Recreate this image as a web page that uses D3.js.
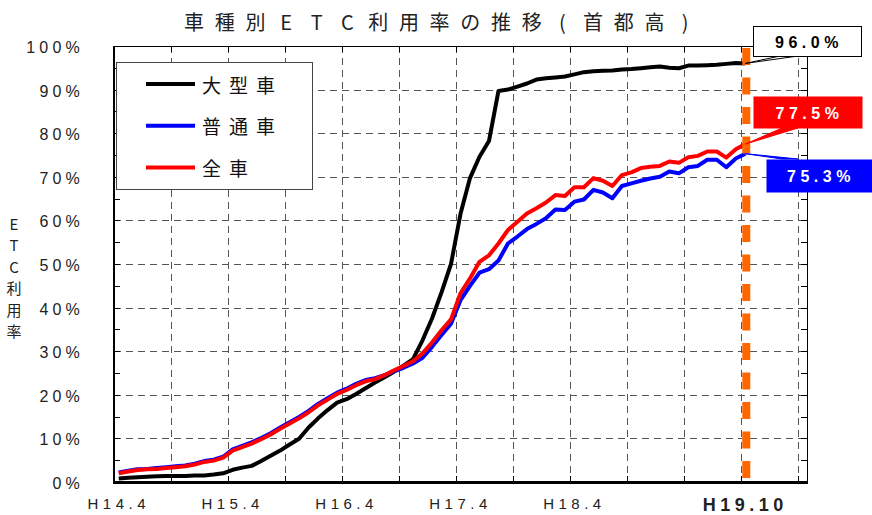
<!DOCTYPE html>
<html><head><meta charset="utf-8">
<script src="https://cdn.jsdelivr.net/npm/d3@7/dist/d3.min.js"></script>
<style>
html,body{margin:0;padding:0;background:#fff;}
svg{display:block;}
</style></head>
<body>
<svg id="chart" width="872" height="515"></svg>
<script>
// ---------- data ----------
const titleText = "車種別ETC利用率の推移(首都高)";
const yTitle = ["E","T","C","利","用","率"];
const seriesNames = ["大型車","普通車","全車"];
const seriesColors = ["#000000","#0000FF","#FF0000"];
// monthly categories from H14.4 to H20.4 (73 months); data runs H14.4 .. H19.10
const categories = [];
for (let i = 0; i < 73; i++) {
  const yr = 14 + Math.floor((i + 3) / 12);
  const mo = ((i + 3) % 12) + 1;
  categories.push("H" + yr + "." + mo);
}
const xTickLabels = ["H14.4","H15.4","H16.4","H17.4","H18.4","H19.10"];
const yTicks = [0,10,20,30,40,50,60,70,80,90,100];
const largeVals = [0.8,1.0,1.1,1.2,1.3,1.4,1.4,1.4,1.5,1.5,1.7,2.0,2.8,3.3,3.7,4.8,6.0,7.2,8.6,9.9,
  12.5,14.6,16.5,18.2,19.0,20.2,21.5,22.8,24.0,25.3,26.7,28.2,32.5,37.5,43.5,50.0,61.5,69.7,74.6,78.2,
  89.7,90.0,90.7,91.4,92.3,92.6,92.8,93.0,93.5,94.0,94.2,94.3,94.4,94.6,94.7,94.9,95.1,95.3,95.0,94.9,
  95.5,95.5,95.6,95.7,95.9,96.1,96.0];
const normalVals = [2.2,2.6,2.9,3.0,3.2,3.4,3.6,3.8,4.2,4.8,5.1,5.8,7.5,8.3,9.1,10.1,11.2,12.5,13.7,14.9,
  16.3,17.9,19.2,20.5,21.4,22.5,23.4,23.8,24.5,25.4,26.2,27.2,28.5,31.0,33.7,36.3,41.7,45.0,48.0,48.8,
  50.8,54.7,56.3,58.0,59.2,60.5,62.5,62.4,64.3,64.8,67.0,66.4,65.1,67.9,68.5,69.1,69.6,70.0,71.2,70.8,
  72.2,72.5,73.9,73.9,72.2,74.2,75.3];
const allVals = [2.0,2.4,2.75,2.9,3.0,3.2,3.4,3.6,4.0,4.6,4.9,5.6,7.2,8.0,8.8,9.8,10.9,12.2,13.4,14.6,
  16.0,17.6,18.9,20.2,21.1,22.2,23.1,23.6,24.5,25.6,26.6,27.7,29.5,32.0,34.8,37.3,43.3,46.7,50.5,52.0,
  54.7,57.8,59.7,61.6,62.8,64.1,65.8,65.6,67.6,67.6,69.7,69.1,67.9,70.4,71.0,72.0,72.3,72.5,73.5,73.2,
  74.5,74.8,75.8,75.8,74.4,76.3,77.5];
const calloutTexts = ["96.0%","77.5%","75.3%"];
const markerCategory = "H19.10";

// ---------- layout ----------
const svg = d3.select("#chart");
const L = 114, R = 807, T = 46, B = 482;
const x = d3.scaleBand().domain(categories).range([L, R]).padding(0);
const bw = x.bandwidth();
const xc = c => x(c) + bw / 2;
const y = d3.scaleLinear().domain([0, 100]).range([B, T]);
const fontJP = "'Noto Sans CJK JP','Noto Sans',sans-serif";
const fontLat = "'Liberation Sans',Arial,sans-serif";

// title (each glyph on an even pitch)
const tChars = Array.from(titleText);
svg.append("text")
  .attr("x", tChars.map((c, i) => 194 + i * 30.7).join(" "))
  .attr("y", 21)
  .attr("text-anchor", "middle")
  .attr("dominant-baseline", "central")
  .attr("font-family", fontJP)
  .attr("font-size", 20)
  .attr("fill", "#222")
  .text(titleText);

// y-axis title (vertical stack)
svg.append("g").selectAll("text").data(yTitle).join("text")
  .attr("x", 14).attr("y", (d, i) => 223 + i * 21.5)
  .attr("text-anchor", "middle").attr("dominant-baseline", "central")
  .attr("font-family", fontJP).attr("font-size", 15).attr("fill", "#222")
  .text(d => d);

// gridlines
const grid = svg.append("g").attr("stroke", "#555").attr("stroke-width", 1)
  .attr("stroke-dasharray", "7,5").attr("fill", "none");
grid.selectAll("line.h").data(yTicks.filter(d => d > 0 && d < 100)).join("line")
  .attr("class", "h").attr("x1", L).attr("x2", R)
  .attr("y1", d => Math.round(y(d)) + 0.5).attr("y2", d => Math.round(y(d)) + 0.5);
const vCats = categories.filter((c, i) => i % 6 === 0 && i > 0);
grid.selectAll("line.v").data(vCats).join("line")
  .attr("class", "v")
  .attr("x1", d => Math.round(x(d)) + 0.5).attr("x2", d => Math.round(x(d)) + 0.5)
  .attr("y1", T).attr("y2", B);

// frame top/right
svg.append("line").attr("x1", L).attr("x2", R).attr("y1", T + 0.5).attr("y2", T + 0.5).attr("stroke", "#000");
svg.append("line").attr("x1", R + 0.5).attr("x2", R + 0.5).attr("y1", T).attr("y2", B).attr("stroke", "#000");

// minor ticks (every 5%) on left and right axes, inward
const minor = d3.range(0, 101, 5);
const tk = svg.append("g").attr("stroke", "#000").attr("stroke-width", 1);
tk.selectAll("line.l").data(minor).join("line").attr("class", "l")
  .attr("x1", L).attr("x2", L + 6)
  .attr("y1", d => Math.round(y(d)) + 0.5).attr("y2", d => Math.round(y(d)) + 0.5);
tk.selectAll("line.r").data(minor).join("line").attr("class", "r")
  .attr("x1", R - 6).attr("x2", R)
  .attr("y1", d => Math.round(y(d)) + 0.5).attr("y2", d => Math.round(y(d)) + 0.5);
tk.selectAll("line.b").data(vCats).join("line").attr("class", "b")
  .attr("x1", d => Math.round(x(d)) + 0.5).attr("x2", d => Math.round(x(d)) + 0.5)
  .attr("y1", B - 6).attr("y2", B);
tk.selectAll("line.t").data(vCats).join("line").attr("class", "t")
  .attr("x1", d => Math.round(x(d)) + 0.5).attr("x2", d => Math.round(x(d)) + 0.5)
  .attr("y1", T).attr("y2", T + 6);

// y axis labels
const yAxis = d3.axisLeft(y).tickValues(yTicks).tickFormat(d => d + "%").tickSize(0).tickPadding(30);
const ya = svg.append("g").attr("transform", `translate(${L},0)`).call(yAxis);
ya.select(".domain").remove();
ya.selectAll("text").attr("font-family", fontLat).attr("font-size", 16)
  .attr("letter-spacing", "4.2px").attr("fill", "#222").attr("dy", "0.4em");

// x axis labels
const xAxis = d3.axisBottom(x).tickValues(xTickLabels).tickSize(0).tickPadding(16);
const xa = svg.append("g").attr("transform", `translate(0,${B})`).call(xAxis);
xa.select(".domain").remove();
xa.selectAll("text").attr("font-family", fontLat).attr("font-size", 15)
  .attr("letter-spacing", "4.5px").attr("fill", "#222")
  .attr("font-weight", d => d === markerCategory ? "bold" : "normal")
  .attr("font-size", d => d === markerCategory ? 18 : 15);

// series lines
const line = d3.line().x((d, i) => xc(categories[i])).y(d => y(d)).curve(d3.curveLinear);
const seriesVals = [largeVals, normalVals, allVals];
svg.append("g").selectAll("path").data(seriesVals).join("path")
  .attr("d", d => line(d)).attr("fill", "none")
  .attr("stroke", (d, i) => seriesColors[i]).attr("stroke-width", 4)
  .attr("stroke-linejoin", "round");

// axes lines (left, bottom)
svg.append("line").attr("x1", L).attr("x2", L).attr("y1", T).attr("y2", B + 1).attr("stroke", "#000").attr("stroke-width", 2);
svg.append("line").attr("x1", L - 1).attr("x2", R + 1).attr("y1", B + 0.5).attr("y2", B + 0.5).attr("stroke", "#000").attr("stroke-width", 3);

// orange marker line
const mx = xc(markerCategory) + 1;
svg.append("line").attr("x1", mx).attr("x2", mx).attr("y1", 48).attr("y2", 478)
  .attr("stroke", "#FF6600").attr("stroke-width", 8).attr("stroke-dasharray", "17,12.5");

// legend
const lg = svg.append("g");
lg.append("rect").attr("x", 116.5).attr("y", 62.5).attr("width", 196).attr("height", 127)
  .attr("fill", "#fff").attr("stroke", "#444").attr("stroke-width", 1);
const lgItems = lg.selectAll("g.item").data(seriesNames).join("g").attr("class", "item")
  .attr("transform", (d, i) => `translate(0,${84 + i * 41.7})`);
lgItems.append("line").attr("x1", 146).attr("x2", 195).attr("y1", 0).attr("y2", 0)
  .attr("stroke", (d, i) => seriesColors[i]).attr("stroke-width", 4);
lgItems.append("text").attr("x", 202).attr("y", 0).attr("dominant-baseline", "central")
  .attr("font-family", fontJP).attr("font-size", 19).attr("letter-spacing", "8px").attr("fill", "#111")
  .text(d => d);

// callouts
const lastIdx = largeVals.length - 1;
const ax = xc(categories[lastIdx]);
const callouts = [
  {v: largeVals[lastIdx], text: calloutTexts[0], bx: 753, by: 26, bw: 108, bh: 30, fill: "#fff", stroke: "#000", tc: "#000", base: [[780, 56], [798, 56]]},
  {v: allVals[lastIdx], text: calloutTexts[1], bx: 753, by: 96, bw: 109, bh: 32, fill: "#FF0000", stroke: "none", tc: "#fff", base: [[782, 128], [798, 128]]},
  {v: normalVals[lastIdx], text: calloutTexts[2], bx: 766, by: 159, bw: 106, bh: 33, fill: "#0000FF", stroke: "none", tc: "#fff", base: [[782, 159], [798, 159]]}
];
const cg = svg.append("g").selectAll("g").data(callouts).join("g");
cg.append("polygon")
  .attr("points", d => [[ax, y(d.v)], d.base[0], d.base[1]].map(p => p.join(",")).join(" "))
  .attr("fill", d => d.fill).attr("stroke", d => d.stroke === "none" ? d.fill : d.stroke).attr("stroke-width", 1);
cg.append("rect").attr("x", d => d.bx + 0.5).attr("y", d => d.by + 0.5)
  .attr("width", d => d.bw).attr("height", d => d.bh)
  .attr("fill", d => d.fill).attr("stroke", d => d.stroke).attr("stroke-width", 1);
cg.append("text").attr("x", d => d.bx + d.bw / 2 + 2).attr("y", d => d.by + d.bh / 2 + 1)
  .attr("text-anchor", "middle").attr("dominant-baseline", "central")
  .attr("font-family", fontLat).attr("font-weight", "bold").attr("font-size", 16)
  .attr("letter-spacing", "4.5px").attr("fill", d => d.tc)
  .text(d => d.text);
</script>
</body></html>
